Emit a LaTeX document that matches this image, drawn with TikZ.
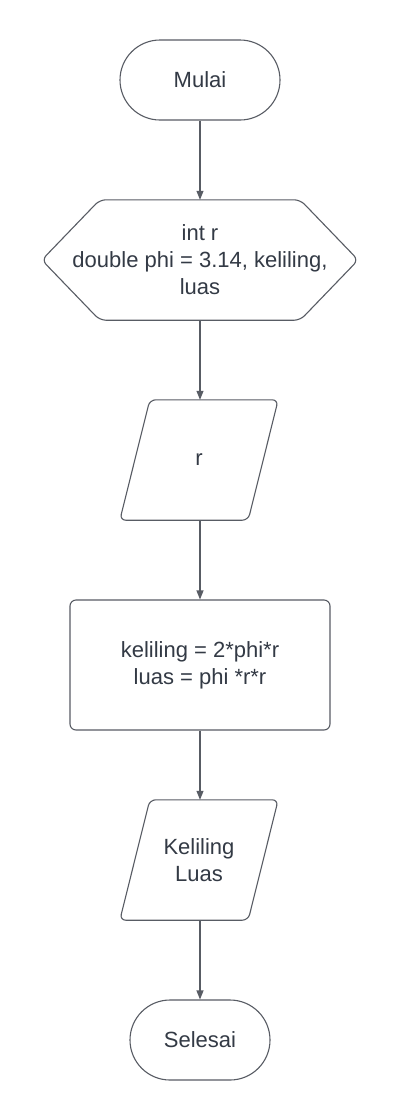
\documentclass[tikz,border=0pt]{standalone}
\usepackage{fontspec}
\setmainfont{Liberation Sans}
\usetikzlibrary{arrows.meta}
\definecolor{lineC}{RGB}{88,92,100}
\definecolor{textC}{RGB}{51,58,69}
\begin{document}
\begin{tikzpicture}[x=1pt,y=-1pt,
  lbl/.style={inner sep=0pt, text=textC, align=center,
    font=\fontsize{22pt}{27pt}\selectfont},
  outline/.style={draw=lineC, line width=1.1pt},
  conn/.style={draw=lineC, line width=1.1pt, -{Triangle[length=9pt,width=7pt]}}]
\useasboundingbox[fill=white] (0,0) rectangle (400,1120);
% terminal start
\node[lbl, outline, rounded corners=40pt, minimum width=160pt, minimum height=80pt] (mulai) at (200,80) {Mulai};
% preparation hexagon
\node[lbl, minimum width=316pt, minimum height=120pt] (init) at (200,260) {int r\\double phi = 3.14, keliling,\\luas};
\draw[outline, rounded corners=6pt] (init.west) -- ([xshift=58pt]init.north west) -- ([xshift=-58pt]init.north east) -- (init.east) -- ([xshift=-58pt]init.south east) -- ([xshift=58pt]init.south west) -- cycle;
% input parallelogram
\node[lbl, minimum width=158pt, minimum height=120pt] (inp) at (199,460) {r};
\draw[outline, rounded corners=6pt] ([xshift=30pt]inp.north west) -- (inp.north east) -- ([xshift=-30pt]inp.south east) -- (inp.south west) -- cycle;
% process
\node[lbl, outline, rounded corners=6pt, minimum width=260pt, minimum height=130pt] (proc) at (200,665) {keliling = 2*phi*r\\luas = phi *r*r};
% output parallelogram
\node[lbl, minimum width=158pt, minimum height=120pt] (outp) at (199,860) {Keliling\\Luas};
\draw[outline, rounded corners=6pt] ([xshift=30pt]outp.north west) -- (outp.north east) -- ([xshift=-30pt]outp.south east) -- (outp.south west) -- cycle;
% terminal end
\node[lbl, outline, rounded corners=40pt, minimum width=140pt, minimum height=80pt] (selesai) at (200,1040) {Selesai};
% connectors
\draw[conn] (mulai.south) -- (init.north);
\draw[conn] (init.south) -- ([xshift=1pt]inp.north);
\draw[conn] ([xshift=1pt]inp.south) -- (proc.north);
\draw[conn] (proc.south) -- ([xshift=1pt]outp.north);
\draw[conn] ([xshift=1pt]outp.south) -- (selesai.north);
\end{tikzpicture}
\end{document}
